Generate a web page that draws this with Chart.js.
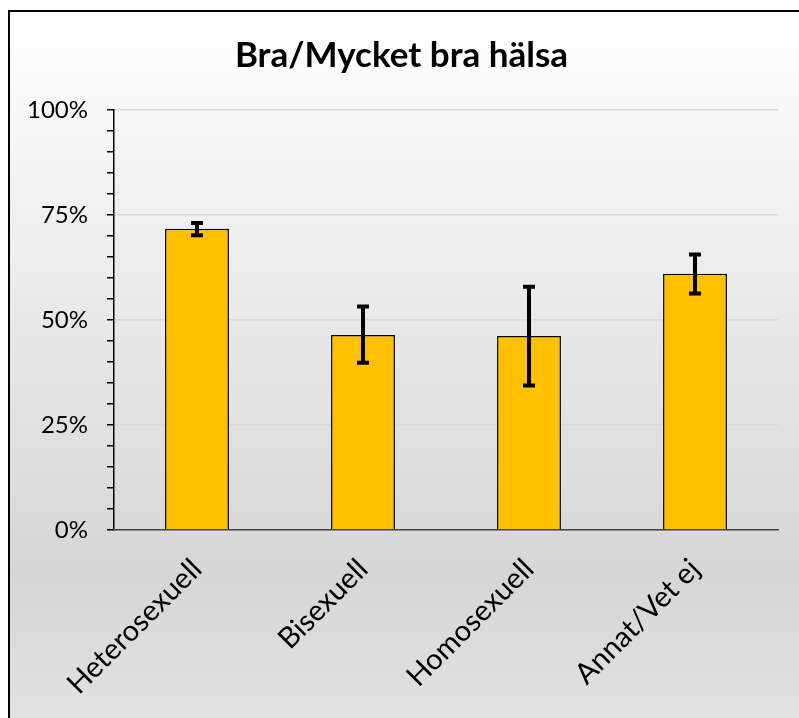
<!DOCTYPE html>
<html>
<head>
<meta charset="utf-8">
<script src="https://cdn.jsdelivr.net/npm/chart.js@4/dist/chart.umd.min.js"></script>
<style>
  body { margin: 0; background: #fff; }
  .box {
    position: absolute; left: 8px; top: 10px;
    width: 800px; height: 720px;
    border: 2px solid #000;
    background: linear-gradient(to bottom, #ffffff 0%, #d6d6d6 78%, #e2e2e2 100%);
  }
  canvas { position: absolute; left: 0; top: 0; }
</style>
</head>
<body>
<div class="box"><canvas id="graf" width="789" height="706"></canvas></div>
<script>
// Data
const kategorier = ['Heterosexuell', 'Bisexuell', 'Homosexuell', 'Annat/Vet ej']
const andel = [71.7, 46.4, 46.2, 61.0]
const felLag = [70.2, 39.8, 34.4, 56.3]
const felHog = [73.1, 53.2, 57.9, 65.6]
const titel = 'Bra/Mycket bra hälsa'

// error bars drawn on top of the bars
const felstaplar = {
    id: 'felstaplar',
    afterDatasetsDraw(chart) {
        const ctx = chart.ctx
        const x = chart.scales.x
        const y = chart.scales.y
        ctx.save()
        ctx.strokeStyle = '#000'
        ctx.lineWidth = 4
        ctx.lineCap = 'butt'
        kategorier.forEach((k, i) => {
            const px = x.getPixelForValue(i)
            const top = y.getPixelForValue(felHog[i])
            const bot = y.getPixelForValue(felLag[i])
            ctx.beginPath()
            ctx.moveTo(px, top)
            ctx.lineTo(px, bot)
            ctx.moveTo(px - 6, top)
            ctx.lineTo(px + 6, top)
            ctx.moveTo(px - 6, bot)
            ctx.lineTo(px + 6, bot)
            ctx.stroke()
        })
        ctx.restore()
    }
}

let graf = document.getElementById('graf').getContext('2d')

const config = {
    type: 'bar',
    data: {
        labels: kategorier,
        datasets: [
            {
                label: titel,
                data: andel,
                backgroundColor: '#FFC000',
                borderColor: '#000',
                borderWidth: 1.5,
                barPercentage: 0.385,
                categoryPercentage: 1
            }
        ]
    },
    options: {
        responsive: false,
        animation: false,
        layout: { padding: { left: 15, right: 21, top: 0, bottom: 0 } },
        plugins: {
            legend: { display: false },
            tooltip: { enabled: false },
            title: {
                display: true,
                text: titel,
                color: '#000',
                font: { family: 'Lato', size: 35, weight: 'bold', lineHeight: 1.2 },
                padding: { top: 23, bottom: 33 }
            }
        },
        scales: {
            y: {
                min: 0,
                max: 100,
                afterFit: s => { s.width = 89 },
                ticks: {
                    stepSize: 5,
                    autoSkip: false,
                    padding: 19,
                    color: '#000',
                    font: { family: 'Lato', size: 24 },
                    callback: v => (v % 25 === 0 ? v + '%' : '')
                },
                grid: {
                    color: c => (c.tick && c.tick.value % 25 === 0 && c.tick.value > 0 ? '#d9d9d9' : 'rgba(0,0,0,0)'),
                    lineWidth: 1.5,
                    tickColor: '#000',
                    tickLength: 7
                },
                border: { color: '#000', width: 1.5 }
            },
            x: {
                afterFit: s => { s.height = 188 },
                ticks: {
                    minRotation: 45,
                    maxRotation: 45,
                    padding: 22,
                    color: '#000',
                    font: { family: 'Lato', size: 29 }
                },
                grid: { drawOnChartArea: false, drawTicks: false },
                border: { color: '#404040', width: 1.5 }
            }
        }
    },
    plugins: [felstaplar]
}

var myChart = new Chart(graf, config)
</script>
</body>
</html>
